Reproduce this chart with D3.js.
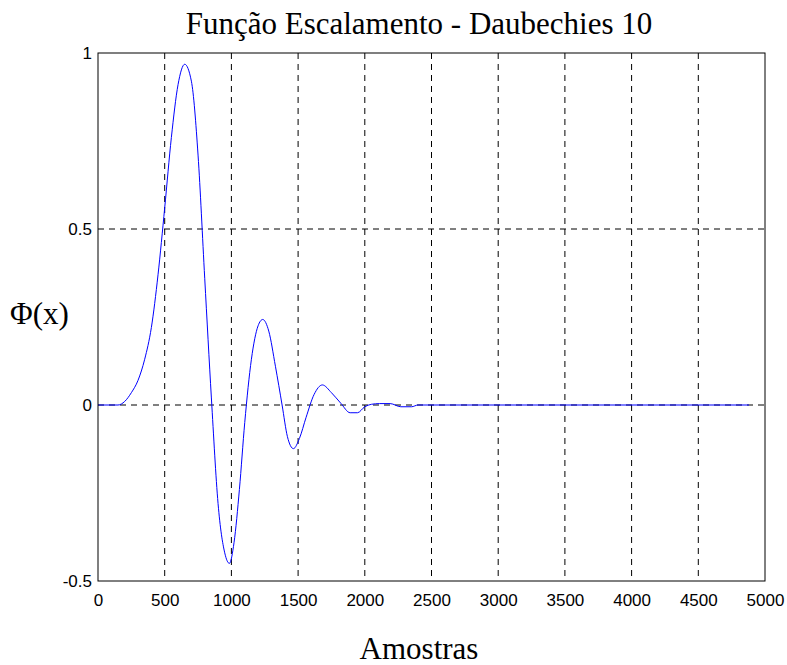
<!DOCTYPE html>
<html>
<head>
<meta charset="utf-8">
<script src="https://cdn.jsdelivr.net/npm/d3@7"></script>
<style>
  body { margin: 0; background: #fff; }
</style>
</head>
<body>
<svg id="chart"></svg>
<script>
// amostras (x) e valores de phi(x)
const samples = [0, 150, 200, 250, 300, 350, 400, 450, 500, 550, 600, 650, 700, 750, 800, 850,
  900, 950, 985, 1020, 1060, 1100, 1150, 1200, 1235, 1280, 1330, 1380, 1420, 1465, 1510, 1560,
  1620, 1682, 1750, 1820, 1890, 1945, 2000, 2050, 2110, 2190, 2270, 2350, 2400, 4880];
const phi = [0, 0, 0.01, 0.035, 0.07, 0.13, 0.22, 0.37, 0.56, 0.76, 0.91, 0.968, 0.92, 0.71, 0.36, 0.02,
  -0.28, -0.42, -0.45, -0.39, -0.24, -0.05, 0.13, 0.225, 0.243, 0.21, 0.11, 0.0, -0.09, -0.124, -0.095, -0.035,
  0.03, 0.057, 0.035, 0.005, -0.022, -0.022, -0.005, 0.002, 0.004, 0.004, -0.005, -0.005, 0, 0];
const xTicks = [0, 500, 1000, 1500, 2000, 2500, 3000, 3500, 4000, 4500, 5000];
const yTicks = [-0.5, 0, 0.5, 1];

const width = 787, height = 665;
const margin = { left: 98, right: 22, top: 53, bottom: 84 };

const svg = d3.select("#chart")
    .attr("width", width)
    .attr("height", height);

const x = d3.scaleLinear().domain([0, 5000]).range([margin.left, width - margin.right]);
const y = d3.scaleLinear().domain([-0.5, 1]).range([height - margin.bottom, margin.top]);

// grade tracejada
svg.append("g")
    .selectAll("line")
    .data(xTicks.slice(1, -1))
    .enter().append("line")
    .attr("x1", d => x(d)).attr("x2", d => x(d))
    .attr("y1", y(1)).attr("y2", y(-0.5))
    .attr("stroke", "#000").attr("stroke-width", 1)
    .attr("stroke-dasharray", "6,5");

svg.append("g")
    .selectAll("line")
    .data(yTicks.slice(1, -1))
    .enter().append("line")
    .attr("y1", d => y(d)).attr("y2", d => y(d))
    .attr("x1", x(0)).attr("x2", x(5000))
    .attr("stroke", "#000").attr("stroke-width", 1)
    .attr("stroke-dasharray", "6,5");

// curva
const data = samples.map((s, i) => [s, phi[i]]);
const line = d3.line()
    .x(d => x(d[0]))
    .y(d => y(d[1]))
    .curve(d3.curveMonotoneX);

svg.append("path")
    .datum(data)
    .attr("d", line)
    .attr("fill", "none")
    .attr("stroke", "#0000ff")
    .attr("stroke-width", 1);

// eixos
const xAxis = svg.append("g")
    .attr("transform", `translate(0,${y(-0.5)})`)
    .call(d3.axisBottom(x).tickValues(xTicks).tickSize(0).tickPadding(13).tickFormat(d3.format("d")));
const yAxis = svg.append("g")
    .attr("transform", `translate(${x(0)},0)`)
    .call(d3.axisLeft(y).tickValues(yTicks).tickSize(0).tickPadding(6).tickFormat(d => d));

[xAxis, yAxis].forEach(g => {
  g.select(".domain").remove();
  g.selectAll("text")
    .attr("font-family", "'Liberation Sans', Arial, sans-serif")
    .attr("font-size", 17)
    .attr("fill", "#000");
});

// moldura
svg.append("rect")
    .attr("x", x(0)).attr("y", y(1))
    .attr("width", x(5000) - x(0))
    .attr("height", y(-0.5) - y(1))
    .attr("fill", "none")
    .attr("stroke", "#000")
    .attr("stroke-width", 1);

// titulos
svg.append("text")
    .attr("x", 419).attr("y", 34)
    .attr("text-anchor", "middle")
    .attr("font-family", "'Liberation Serif', 'Times New Roman', serif")
    .attr("font-size", 31)
    .text("Função Escalamento - Daubechies 10");

svg.append("text")
    .attr("x", 419).attr("y", 659)
    .attr("text-anchor", "middle")
    .attr("font-family", "'Liberation Serif', 'Times New Roman', serif")
    .attr("font-size", 31)
    .text("Amostras");

svg.append("text")
    .attr("x", 10).attr("y", 324)
    .attr("font-family", "'Liberation Serif', 'Times New Roman', serif")
    .attr("font-size", 31)
    .text("Φ(x)");
</script>
</body>
</html>
